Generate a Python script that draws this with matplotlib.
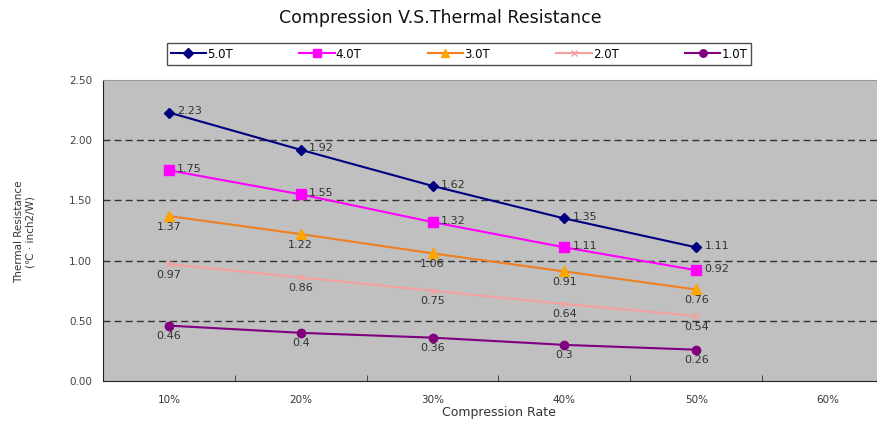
import matplotlib.pyplot as plt
import numpy as np

categories = ["10%", "20%", "30%", "40%", "50%", "60%"]
series_names = ["5.0T", "4.0T", "3.0T", "2.0T", "1.0T"]
t50 = [2.23, 1.92, 1.62, 1.35, 1.11]
t40 = [1.75, 1.55, 1.32, 1.11, 0.92]
t30 = [1.37, 1.22, 1.06, 0.91, 0.76]
t20 = [0.97, 0.86, 0.75, 0.64, 0.54]
t10 = [0.46, 0.4, 0.36, 0.3, 0.26]
y_ticks = [0.0, 0.5, 1.0, 1.5, 2.0, 2.5]

styles = [
    (t50, "#000080", "#000080", "D", 5.5, "right"),
    (t40, "#FF00FF", "#FF00FF", "s", 6.5, "right"),
    (t30, "#F07F1F", "#FFA500", "^", 6.5, "below"),
    (t20, "#F4A0A0", "#F4A0A0", "x", 5, "below"),
    (t10, "#800080", "#800080", "o", 6, "below"),
]


def main():
    fig = plt.figure(figsize=(8.77, 4.23), dpi=100)
    ax = fig.add_axes([103 / 877, 1 - 381 / 423, 791 / 877, 301 / 423])
    ax.set_facecolor("#C0C0C0")

    x = np.arange(len(t50))
    handles = []
    for (vals, lc, mc, mk, ms, pos), name in zip(styles, series_names):
        h, = ax.plot(x, vals, color=lc, lw=1.5, marker=mk, markersize=ms,
                     markerfacecolor=mc, markeredgecolor=mc, label=name, zorder=3)
        handles.append(h)
        for xi, v in zip(x, vals):
            label = f"{v:g}"
            if pos == "right":
                ax.annotate(label, (xi, v), xytext=(6, 1), textcoords="offset points",
                            ha="left", va="center", fontsize=8, color="#333333")
            else:
                ax.annotate(label, (xi, v), xytext=(0, -4), textcoords="offset points",
                            ha="center", va="top", fontsize=8, color="#333333")

    ax.set_xlim(-0.5, len(categories) - 0.5)
    ax.set_ylim(0, 2.5)
    ax.set_yticks(y_ticks)
    ax.set_yticklabels([f"{t:.2f}" for t in y_ticks], fontsize=7.5, color="#444444")
    for t in y_ticks[1:-1]:
        ax.axhline(t, color="#333333", lw=1, ls=(0, (5, 3)), zorder=1)

    ax.set_xticks(range(len(categories)))
    ax.set_xticklabels(categories, fontsize=7.5, color="#333333")
    ax.set_xticks(np.arange(-0.5, len(categories), 1), minor=True)
    ax.tick_params(axis="x", which="major", length=0, pad=10)
    ax.tick_params(axis="x", which="minor", length=4, direction="in", color="#333333")
    ax.tick_params(axis="y", length=0, pad=8)

    ax.spines["top"].set_color("#999999")
    ax.spines["right"].set_visible(False)
    ax.spines["left"].set_color("#222222")
    ax.spines["bottom"].set_color("#222222")

    ax.set_xlabel("Compression Rate", fontsize=9, color="#333333", labelpad=1)
    fig.text(25 / 877, 1 - 232 / 423, "Thermal Resistance\n(℃ · inch2/W)",
             rotation=90, ha="center", va="center", fontsize=7.5, color="#333333")

    fig.text(440 / 877, 1 - 18 / 423, "Compression V.S.Thermal Resistance",
             ha="center", va="center", fontsize=12.5, color="#111111")

    leg = fig.legend(handles=handles, loc="center", bbox_to_anchor=(459 / 877, 1 - 54 / 423),
                     ncol=5, fontsize=8.5, frameon=True, fancybox=False,
                     handlelength=3.0, columnspacing=5.6, handletextpad=0.1,
                     borderpad=0.35, markerscale=0.9)
    leg.get_frame().set_edgecolor("#222222")
    leg.get_frame().set_linewidth(1)

    fig.savefig("out.png", dpi=100)


if __name__ == "__main__":
    main()
